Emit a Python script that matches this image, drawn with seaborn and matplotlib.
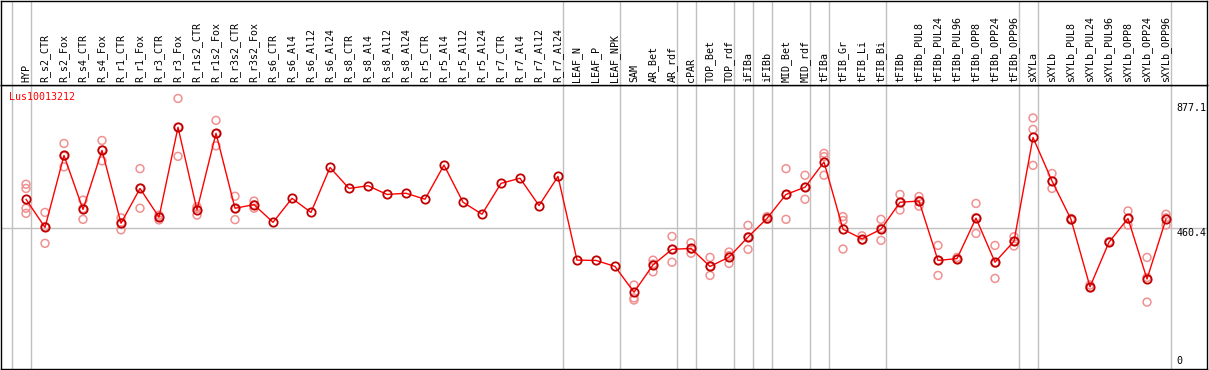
import numpy as np
import pandas as pd
import seaborn as sns
import matplotlib.pyplot as plt

# -----------------------------
# data
# -----------------------------
samples = [
    "HYP", "R_s2_CTR", "R_s2_Fox", "R_s4_CTR", "R_s4_Fox", "R_r1_CTR", "R_r1_Fox",
    "R_r3_CTR", "R_r3_Fox", "R_r1s2_CTR", "R_r1s2_Fox", "R_r3s2_CTR", "R_r3s2_Fox",
    "R_s6_CTR", "R_s6_Al4", "R_s6_Al12", "R_s6_Al24", "R_s8_CTR", "R_s8_Al4",
    "R_s8_Al12", "R_s8_Al24", "R_r5_CTR", "R_r5_Al4", "R_r5_Al12", "R_r5_Al24",
    "R_r7_CTR", "R_r7_Al4", "R_r7_Al12", "R_r7_Al24", "LEAF_N", "LEAF_P", "LEAF_NPK",
    "SAM", "AR_Bet", "AR_rdf", "cPAR", "TOP_Bet", "TOP_rdf", "iFIBa", "iFIBb",
    "MID_Bet", "MID_rdf", "tFIBa", "tFIB_Gr", "tFIB_Li", "tFIB_Bi", "tFIBb",
    "tFIBb_PUL8", "tFIBb_PUL24", "tFIBb_PUL96", "tFIBb_OPP8", "tFIBb_OPP24",
    "tFIBb_OPP96", "sXYLa", "sXYLb", "sXYLb_PUL8", "sXYLb_PUL24", "sXYLb_PUL96",
    "sXYLb_OPP8", "sXYLb_OPP24", "sXYLb_OPP96",
]

means = [
    556, 462, 702, 522, 719, 476, 592, 496, 796, 520, 776, 526, 538,
    479, 559, 512, 662, 592, 601, 572, 576, 556, 670, 546, 506, 609, 626, 535, 632,
    353, 352, 332,
    246, 337, 389, 392, 332, 363, 430, 492, 572, 596, 680, 456, 424, 456, 546,
    550, 352, 358, 493, 346, 416,
    762, 617, 489, 264, 413, 492, 290, 490,
]

# individual replicates per sample (empty = only the mean is shown)
replicates = [
    [606, 592, 526, 509], [512, 409, 465], [742, 664, 700], [553, 489, 525],
    [752, 684, 720], [494, 454, 478], [658, 526, 593], [503, 487, 497],
    [892, 699, 796], [531, 503, 525], [819, 734, 774], [566, 488, 524],
    [550, 526, 538],
    [], [], [], [], [], [], [], [], [], [], [], [], [], [], [], [], [], [], [],
    [270, 227, 220], [353, 314, 340], [432, 346, 389], [411, 376, 390],
    [362, 302, 332], [380, 342, 368], [469, 389, 431], [498, 490, 489],
    [658, 489, 570], [636, 556, 596], [709, 698, 636], [498, 485, 390],
    [434, 420, 420], [489, 419, 459], [572, 520, 545],
    [565, 533, 552], [402, 302, 352], [362, 356, 355], [542, 442, 495],
    [402, 292, 343], [431, 400, 416],
    [827, 789, 669], [642, 592, 616], [492, 487, 488], [270, 262, 261],
    [415, 412, 413], [517, 470, 490], [362, 213, 295], [506, 470, 494],
]

gene = "Lus10013212"
tick_values = [877.1, 460.4, 0]
tick_labels = ["877.1", "460.4", "0"]
# group separators sit just right of these sample indices
group_breaks = [-1, 0, 28, 31, 34, 35, 37, 38, 39, 41, 42, 45, 52, 53, 60]

# -----------------------------
# build tables
# -----------------------------
pos = np.arange(len(samples))
df_mean = pd.DataFrame({"pos": pos, "expr": means})
rows = [(i, v) for i, reps in enumerate(replicates) for v in reps]
df_rep = pd.DataFrame(rows, columns=["pos", "expr"])

sns.set_theme(style="white")
plt.rcParams['font.family'] = ['DejaVu Sans Mono', 'DejaVu Sans']

# -----------------------------
# figure layout (pixel based)
# -----------------------------
W, H = 1209, 370
fig = plt.figure(figsize=(W / 100, H / 100), dpi=100)
ax = fig.add_axes([1 / W, 1 / H, 1206 / W, 284 / H])
hdr = fig.add_axes([1 / W, 285 / H, 1206 / W, 84.5 / H], sharex=ax)

grey = "#c0c0c0"
for a in (ax, hdr):
    for b in group_breaks:
        a.axvline(b + 0.26, color=grey, lw=1, zorder=0)
    for s in a.spines.values():
        s.set_color("black")
        s.set_linewidth(1)
    a.set_xticks([])
    a.set_yticks([])
    a.set_xlabel("")
    a.set_ylabel("")

ax.axhline(460.4, color=grey, lw=1, zorder=0)

# replicates
sns.scatterplot(data=df_rep, x="pos", y="expr", ax=ax, marker="o", s=32,
                facecolor="none", edgecolor="#f09090", linewidth=1.1, zorder=2)
# mean profile
sns.lineplot(data=df_mean, x="pos", y="expr", ax=ax, color="red", lw=1,
             marker="o", markersize=6, markerfacecolor="none",
             markeredgecolor="#c00000", markeredgewidth=1.3, zorder=3)

ax.set_xlim(-1.316, 62.158)
ax.set_ylim(-10, 936.9)
ax.set_xlabel("")
ax.set_ylabel("")

# value labels on the right edge
for v, t in zip(tick_values, tick_labels):
    ax.text(60.53, v, t, ha="left", va="bottom" if v == 0 else "top",
            fontsize=7.2, color="black")

ax.text(-0.89, 897, gene, ha="left", va="center", fontsize=7.2, color="red")

# sample names in the header
hdr.set_ylim(0, 1)
for i, name in enumerate(samples):
    hdr.text(i, 3 / 85, name, rotation=90, ha="center", va="bottom",
             fontsize=7.2, color="black")

fig.savefig("out.png", dpi=100)
